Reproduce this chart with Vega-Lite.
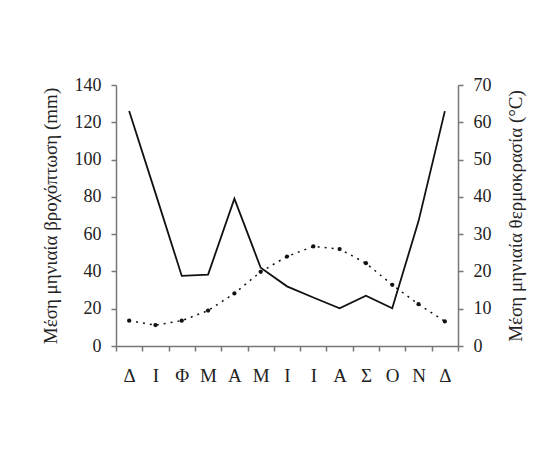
{
  "$schema": "https://vega.github.io/schema/vega-lite/v6.json",
  "width": 342,
  "height": 261,
  "autosize": {"type": "none"},
  "padding": {"left": 116, "top": 85, "right": 95, "bottom": 103},
  "background": "white",
  "config": {
    "view": {"stroke": null},
    "font": "Liberation Serif",
    "axis": {
      "domainColor": "#777",
      "tickColor": "#777",
      "labelColor": "#222",
      "titleColor": "#222",
      "labelFont": "Liberation Serif",
      "titleFont": "Liberation Serif",
      "labelFontSize": 18,
      "titleFontSize": 19,
      "titleFontWeight": "normal",
      "grid": false,
      "tickSize": 5,
      "domainWidth": 1.5,
      "tickWidth": 1.5
    }
  },
  "data": {
    "values": [
      {"k": 0, "p": 126, "t": 6.8},
      {"k": 1, "p": 82, "t": 5.6},
      {"k": 2, "p": 37.6, "t": 6.8},
      {"k": 3, "p": 38.3, "t": 9.5},
      {"k": 4, "p": 79, "t": 14.1},
      {"k": 5, "p": 42, "t": 19.9},
      {"k": 6, "p": 32, "t": 24},
      {"k": 7, "p": 26, "t": 26.7},
      {"k": 8, "p": 20.2, "t": 26},
      {"k": 9, "p": 27, "t": 22.2},
      {"k": 10, "p": 20.2, "t": 16.4},
      {"k": 11, "p": 67, "t": 11.2},
      {"k": 12, "p": 126, "t": 6.6}
    ]
  },
  "encoding": {
    "x": {
      "field": "k",
      "type": "ordinal",
      "scale": {"paddingInner": 0, "paddingOuter": 0},
      "axis": {
        "title": null,
        "labelAngle": 0,
        "tickBand": "extent",
        "labelPadding": 15,
        "labelFontSize": 19,
        "labelExpr": "['Δ','Ι','Φ','Μ','Α','Μ','Ι','Ι','Α','Σ','Ο','Ν','Δ'][datum.value]"
      }
    }
  },
  "layer": [
    {
      "mark": {"type": "line", "color": "#111", "strokeWidth": 1.8},
      "encoding": {
        "y": {
          "field": "p",
          "type": "quantitative",
          "scale": {"domain": [0, 140]},
          "axis": {
            "title": "Μέση μηνιαία βροχόπτωση (mm)",
            "values": [0, 20, 40, 60, 80, 100, 120, 140],
            "labelPadding": 10,
            "titleX": -66,
            "titleBaseline": "middle"
          }
        }
      }
    },
    {
      "encoding": {
        "y": {
          "field": "t",
          "type": "quantitative",
          "scale": {"domain": [0, 70]},
          "axis": {
            "orient": "right",
            "title": "Μέση μηνιαία θερμοκρασία (°C)",
            "titleAngle": -90,
            "values": [0, 10, 20, 30, 40, 50, 60, 70],
            "labelPadding": 10,
            "titleX": 57,
            "titleBaseline": "middle"
          }
        }
      },
      "layer": [
        {"mark": {"type": "line", "color": "#111", "strokeWidth": 1.5, "strokeDash": [2, 5]}},
        {"mark": {"type": "circle", "color": "#111", "size": 18, "opacity": 1}}
      ]
    }
  ],
  "resolve": {"scale": {"y": "independent"}}
}
